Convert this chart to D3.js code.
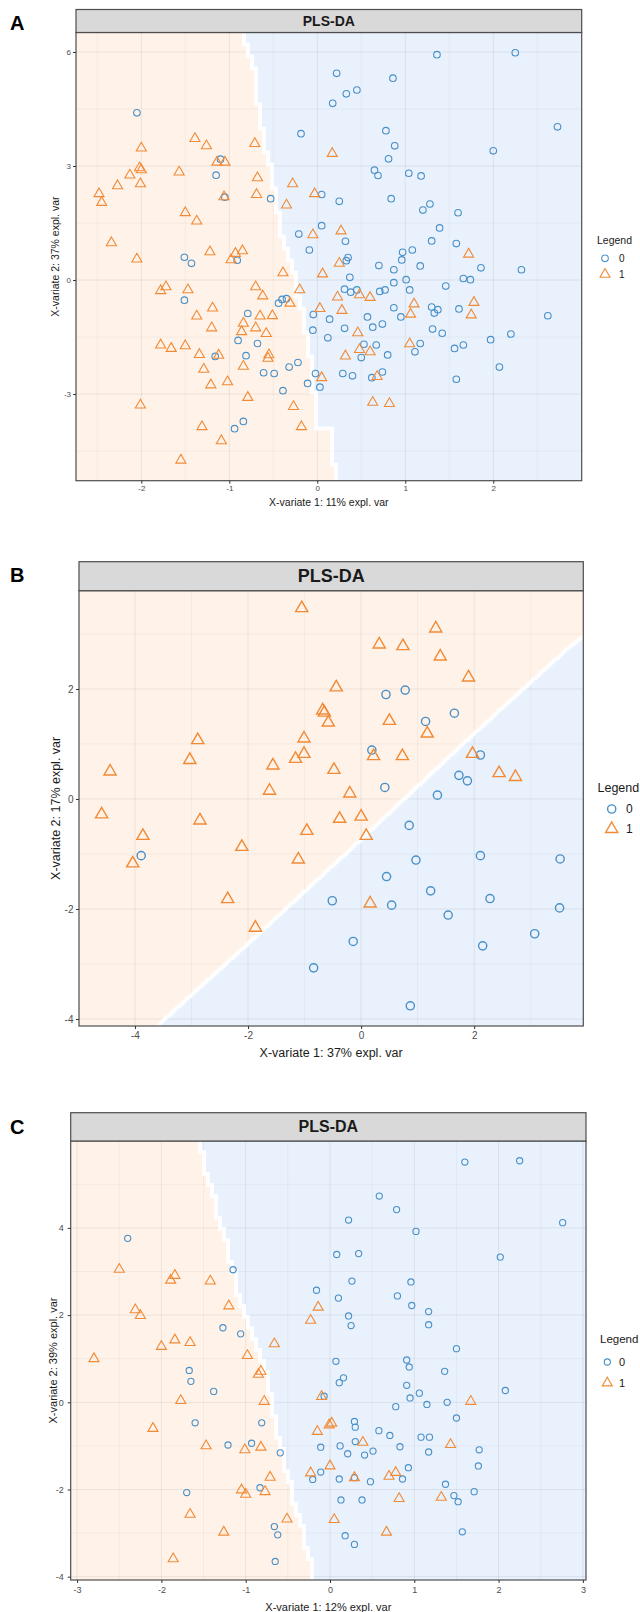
<!DOCTYPE html>
<html>
<head>
<meta charset="utf-8">
<script src="https://cdn.jsdelivr.net/npm/d3@7"></script>
<style>
  body { margin: 0; background: #fff; }
  svg { display: block; }
</style>
</head>
<body>
<div id="chart"></div>
<script>
// ---- Panel A data (x-variate 1, x-variate 2) ----
var aClass0 = [[-2.05,4.40],[-0.185,3.85],[-1.10,3.18],[-1.15,2.76],[-1.05,2.18],[-0.53,2.14],[-0.21,1.21],[-0.09,0.79],
  [1.36,5.93],[2.25,5.98],[0.22,5.44],[0.86,5.31],[0.33,4.90],[0.45,5.0],[0.175,4.65],[2.73,4.03],[2.0,3.40],[0.78,3.93],
  [0.88,3.53],[0.81,3.19],[0.65,2.89],[0.69,2.75],[1.04,2.81],[1.18,2.74],[0.05,2.25],[0.25,2.07],[0.84,2.14],[1.20,1.84],
  [1.28,2.0],[1.60,1.77],[0.05,1.43],[0.32,1.02],[1.39,1.37],[1.30,1.03],[1.58,0.96],[0.97,0.73],[1.08,0.79],
  [0.35,0.59],[0.33,0.51],[0.70,0.38],[0.87,0.27],[1.17,0.37],[0.96,0.53],[1.86,0.32],[2.32,0.27],[0.37,0.07],[0.31,-0.24],
  [0.38,-0.32],[0.45,-0.26],[0.71,-0.30],[0.77,-0.26],[0.87,-0.07],[1.01,0.01],[1.05,-0.26],[1.46,-0.16],[1.66,0.04],[1.74,0.01],
  [-0.045,-0.91],[0.14,-1.03],[-0.05,-1.32],[0.12,-1.52],[0.31,-1.27],[0.57,-0.97],[0.63,-1.24],[0.74,-1.16],[0.87,-0.73],
  [0.95,-0.97],[1.30,-0.71],[1.37,-0.78],[1.33,-0.87],[1.31,-1.29],[1.42,-1.40],[1.61,-0.76],[2.62,-0.94],[1.97,-1.57],
  [2.20,-1.42],[1.56,-1.80],[1.66,-1.71],[0.53,-1.69],[0.67,-1.71],[0.50,-2.04],[0.80,-1.97],[1.11,-1.89],[1.17,-1.67],
  [2.07,-2.29],[1.58,-2.61],[0.29,-2.46],[0.40,-2.52],[0.62,-2.57],[0.74,-2.42],[-0.02,-2.46],[-0.11,-2.72],[0.03,-2.82],
  [-1.51,0.60],[-1.43,0.44],[-0.91,0.52],[-1.51,-0.53],[-0.44,-0.61],[-0.40,-0.51],[-0.35,-0.49],[-0.79,-0.88],[-0.90,-1.59],
  [-0.68,-1.67],[-1.16,-2.01],[-0.81,-1.99],[-0.32,-2.29],[-0.22,-2.17],[-0.61,-2.44],[-0.49,-2.46],[-0.39,-2.91],
  [-0.84,-3.72],[-0.94,-3.91]];
var aClass1 = [[-2.0,3.47],[-1.39,3.72],[-1.26,3.53],[-0.71,3.59],[-2.02,2.95],[-2.00,2.90],[-2.13,2.76],[-2.27,2.48],
  [-2.48,2.27],[-2.45,2.04],[-2.01,2.53],[-1.57,2.84],[-1.14,3.10],[-1.05,3.10],[-0.68,2.69],[-0.69,2.25],[-1.06,2.19],
  [-1.50,1.77],[-1.37,1.55],[-0.28,2.53],[-0.35,1.97],[-0.03,2.27],[-0.05,1.19],[-2.34,0.98],[-1.22,0.74],[-0.85,0.77],
  [-0.93,0.70],[-2.05,0.55],[0.17,3.33],[0.27,1.29],[1.72,0.68],[0.25,0.44],[0.06,0.16],[-0.20,-0.26],[0.23,-0.45],
  [0.48,-0.39],[0.60,-0.46],[0.03,-0.75],[0.28,-0.80],[0.46,-1.39],[0.48,-1.83],[0.60,-1.89],[0.32,-2.0],[1.10,-0.63],
  [1.06,-0.90],[1.05,-1.68],[1.78,-0.59],[1.75,-0.92],[0.05,-2.57],[0.68,-2.54],[0.63,-3.22],[0.82,-3.25],[-0.18,-3.86],
  [-0.98,0.53],[-0.39,0.19],[-1.78,-0.28],[-1.72,-0.18],[-1.47,-0.26],[-0.70,-0.18],[-0.62,-0.42],[-0.31,-0.61],
  [-1.19,-0.74],[-1.37,-0.95],[-0.65,-0.95],[-0.51,-0.94],[-0.84,-1.14],[-1.20,-1.26],[-0.86,-1.36],[-0.70,-1.26],
  [-0.58,-1.41],[-1.78,-1.71],[-1.66,-1.80],[-1.50,-1.73],[-1.34,-1.96],[-1.12,-1.98],[-0.55,-1.97],[-0.56,-2.06],
  [-1.29,-2.35],[-0.84,-2.27],[-1.02,-2.68],[-1.21,-2.76],[-0.79,-3.09],[-2.01,-3.29],[-0.27,-3.33],[-1.31,-3.86],
  [-1.09,-4.23],[-1.55,-4.74]];
// decision boundary: [x-variate 2, x-variate 1]
var aBoundary = [[6.51,-0.86],[5.6,-0.73],[3.86,-0.62],[2.1,-0.46],[1.1,-0.39],[0.18,-0.27],[-0.7,-0.18],[-1.58,-0.12],
  [-2.45,-0.06],[-3.33,-0.01],[-3.86,0.0],[-3.9,0.14],[-4.6,0.18],[-5.28,0.2]];
var aXTicks = [-2, -1, 0, 1, 2], aXMinor = [-2.5, -1.5, -0.5, 0.5, 1.5, 2.5];
var aYTicks = [-3, 0, 3, 6], aYMinor = [-4.5, -1.5, 1.5, 4.5];

// ---- Panel B data ----
var bClass0 = [[0.44,1.90],[0.78,1.98],[1.14,1.41],[1.65,1.56],[0.19,0.89],[2.11,0.80],[1.73,0.43],[1.88,0.33],[0.42,0.21],
  [1.35,0.07],[-3.89,-1.03],[-0.84,-3.07],[0.85,-0.48],[0.97,-1.11],[2.11,-1.03],[3.52,-1.09],[0.45,-1.41],[1.23,-1.67],
  [2.28,-1.81],[-0.51,-1.85],[0.54,-1.93],[1.54,-2.11],[3.51,-1.98],[3.07,-2.45],[-0.14,-2.59],[2.15,-2.67],[0.87,-3.76]];
var bClass1 = [[-1.05,3.47],[-2.89,1.07],[-3.03,0.71],[-4.44,0.50],[-1.01,1.10],[-1.01,0.82],[-1.16,0.73],[-1.56,0.61],
  [-1.62,0.15],[-0.68,1.61],[-0.65,1.57],[-0.58,1.39],[1.32,3.10],[0.32,2.81],[0.74,2.78],[1.40,2.59],[1.90,2.21],
  [-0.44,2.03],[0.50,1.42],[1.17,1.19],[0.22,0.78],[0.73,0.78],[-0.48,0.53],[-0.20,0.10],[1.97,0.82],[2.44,0.47],
  [2.73,0.40],[-4.59,-0.28],[-2.85,-0.39],[-3.86,-0.67],[-0.96,-0.58],[-2.11,-0.87],[-1.11,-1.10],[-4.04,-1.17],
  [-2.36,-1.82],[-1.87,-2.34],[-0.38,-0.36],[0.0,-0.32],[0.09,-0.67],[0.16,-1.90]];
var bBoundary = [[2.95,3.93],[2.78,3.70],[1.01,1.81],[-0.84,-0.11],[-2.65,-2.02],[-4.13,-3.61]];
var bXTicks = [-4, -2, 0, 2], bXMinor = [-5, -3, -1, 1, 3];
var bYTicks = [-4, -2, 0, 2], bYMinor = [-3, -1, 1, 3];

// ---- Panel C data ----
var cClass0 = [[-2.40,3.76],[-1.15,3.04],[-1.27,1.71],[-1.06,1.57],[-0.16,2.57],[1.60,5.51],[2.25,5.54],[0.585,4.73],
  [0.79,4.42],[0.22,4.18],[1.02,3.92],[2.76,4.12],[0.08,3.39],[0.34,3.41],[2.02,3.33],[0.26,2.78],[0.96,2.76],[0.10,2.39],
  [0.80,2.44],[0.97,2.22],[1.17,2.08],[0.22,1.98],[0.25,1.76],[1.17,1.78],[-1.67,0.73],[-1.65,0.48],[-1.38,0.25],
  [-1.60,-0.47],[-0.81,-0.47],[-1.21,-0.98],[-0.93,-0.94],[-0.59,-1.16],[-1.70,-2.07],[-0.83,-1.96],[-0.66,-2.85],
  [-0.62,-3.04],[-0.65,-3.65],[-0.205,-1.77],[-0.11,-1.03],[-0.11,-1.60],[1.50,1.23],[0.07,0.94],[0.91,0.97],[0.94,0.81],
  [1.36,0.71],[0.11,0.45],[0.16,0.56],[0.91,0.39],[1.06,0.21],[0.95,0.10],[2.08,0.27],[-0.07,0.14],[0.78,-0.10],
  [1.15,-0.05],[1.39,0.0],[1.50,-0.36],[0.29,-0.44],[0.30,-0.57],[0.58,-0.65],[0.71,-0.76],[1.08,-0.80],[1.18,-0.80],
  [0.30,-0.90],[0.12,-1.0],[0.21,-1.18],[0.41,-1.21],[0.51,-1.12],[0.83,-1.02],[1.17,-1.14],[1.77,-1.09],[1.76,-1.46],
  [0.93,-1.50],[0.11,-1.76],[0.29,-1.73],[0.48,-1.82],[0.86,-1.76],[1.37,-1.88],[1.47,-2.14],[1.52,-2.28],[1.71,-2.05],
  [0.13,-2.24],[0.38,-2.24],[1.57,-2.97],[0.18,-3.06],[0.29,-3.26]];
var cClass1 = [[-2.50,3.05],[-1.89,2.80],[-1.84,2.91],[-1.42,2.78],[-1.20,2.21],[-2.31,2.12],[-2.25,1.99],[-0.23,1.88],
  [-0.14,2.18],[-1.84,1.43],[-2.0,1.28],[-1.66,1.37],[-0.66,1.34],[-2.80,1.0],[-0.98,1.07],[-0.85,0.64],[-0.82,0.71],
  [-1.77,0.04],[-0.78,0.02],[-2.10,-0.60],[-1.47,-1.0],[-1.01,-1.09],[-0.82,-1.03],[-0.23,-1.62],[-0.71,-1.72],
  [-1.05,-2.01],[-1.0,-2.11],[-0.77,-2.05],[-1.66,-2.57],[-0.51,-2.68],[-1.26,-2.98],[-1.86,-3.59],[-0.10,0.13],
  [1.67,0.02],[-0.15,-0.67],[-0.01,-0.52],[0.02,-0.48],[0.39,-0.92],[1.43,-0.97],[0.0,-1.46],[0.29,-1.73],[0.70,-1.70],
  [0.78,-1.61],[0.82,-2.21],[1.32,-2.18],[0.05,-2.69],[0.67,-2.98]];
var cBoundary = [[6.0,-1.58],[5.17,-1.44],[4.4,-1.34],[3.65,-1.23],[2.87,-1.13],[2.11,-1.03],[1.65,-0.95],[0.89,-0.79],
  [0.12,-0.71],[-0.65,-0.63],[-1.41,-0.53],[-2.18,-0.44],[-2.95,-0.32],[-3.71,-0.22],[-4.09,-0.18]];
var cXTicks = [-3, -2, -1, 0, 1, 2, 3], cXMinor = [-2.5, -1.5, -0.5, 0.5, 1.5, 2.5];
var cYTicks = [-4, -2, 0, 2, 4], cYMinor = [-3, -1, 1, 3, 5];

var legendLabels = ["0", "1"];
var blue = "#4a90c8", orange = "#f28a35";

var svg = d3.select("#chart").append("svg")
  .attr("width", 640)
  .attr("height", 1612);

var panels = [
  {label: "A", class0: aClass0, class1: aClass1, boundary: aBoundary,
   xTicks: aXTicks, xMinor: aXMinor, yTicks: aYTicks, yMinor: aYMinor,
   xDomain: [-2.742, 3.005], yDomain: [-5.28, 6.513],
   left: 76, right: 581.7, stripTop: 9.5, top: 32.5, bottom: 480.7,
   rowH: 12, colW: 4, gap: 4, r: 3.3, tri: 44, sw: 1.1,
   font: "'Liberation Sans', Arial, sans-serif",
   stripSize: 14, tickSize: 8, titleSize: 10.5, tickPad: 2,
   xTitle: "X-variate 1: 11% expl. var", yTitle: "X-variate 2: 37% expl. var",
   xTitleY: 506, yTitleX: 55, labelY: 30,
   legX: 597, legY: 244, legSym: 605, legText: 619, legRow: [258.3, 274.3], legSize: 10.5},
  {label: "B", class0: bClass0, class1: bClass1, boundary: bBoundary,
   xTicks: bXTicks, xMinor: bXMinor, yTicks: bYTicks, yMinor: bYMinor,
   xDomain: [-4.99, 3.93], yDomain: [-4.127, 3.787],
   left: 79, right: 583.3, stripTop: 561.7, top: 590.7, bottom: 1026,
   rowH: 2, colW: 1, gap: 3, r: 4.1, tri: 64, sw: 1.4,
   font: "'Liberation Sans', Arial, sans-serif",
   stripSize: 18, tickSize: 10, titleSize: 12.5, tickPad: 2.5,
   xTitle: "X-variate 1: 37% expl. var", yTitle: "X-variate 2: 17% expl. var",
   xTitleY: 1056.5, yTitleX: 56, labelY: 582,
   legX: 597.5, legY: 791.5, legSym: 611.7, legText: 626, legRow: [809, 829], legSize: 12.5},
  {label: "C", class0: cClass0, class1: cClass1, boundary: cBoundary,
   xTicks: cXTicks, xMinor: cXMinor, yTicks: cYTicks, yMinor: cYMinor,
   xDomain: [-3.076, 3.037], yDomain: [-4.076, 5.993],
   left: 70.7, right: 586, stripTop: 1112.7, top: 1141, bottom: 1580,
   rowH: 11, colW: 4, gap: 4, r: 3.1, tri: 44, sw: 1.1,
   font: "'Liberation Sans Narrow', 'Liberation Sans', Arial, sans-serif",
   stripSize: 16, tickSize: 9, titleSize: 11, tickPad: 4,
   xTitle: "X-variate 1: 12% expl. var", yTitle: "X-variate 2: 39% expl. var",
   xTitleY: 1610.5, yTitleX: 53, labelY: 1134,
   legX: 600, legY: 1343, legSym: 607.3, legText: 619, legRow: [1362, 1383], legSize: 11.5}
];

// boundary position (x-variate 1) for a given x-variate 2, linear between the read points
function boundaryAt(b, v) {
  var i = 0;
  while (i < b.length - 2 && v < b[i + 1][0]) i++;
  var a = b[i], c = b[i + 1];
  return a[1] + (v - a[0]) * (c[1] - a[1]) / (c[0] - a[0]);
}

function drawPanel(p) {
  var x = d3.scaleLinear().domain(p.xDomain).range([p.left, p.right]);
  var y = d3.scaleLinear().domain(p.yDomain).range([p.bottom, p.top]);
  var g = svg.append("g");

  var clipId = "clip" + p.label;
  g.append("clipPath").attr("id", clipId)
    .append("rect")
      .attr("x", p.left).attr("y", p.top)
      .attr("width", p.right - p.left).attr("height", p.bottom - p.top);
  var plot = g.append("g").attr("clip-path", "url(#" + clipId + ")");

  // predicted background: blue everywhere, orange left of the boundary (tiled rows)
  plot.append("rect")
    .attr("x", p.left).attr("y", p.top)
    .attr("width", p.right - p.left).attr("height", p.bottom - p.top)
    .attr("fill", "#e8f1fc");

  var edge = "";
  for (var py = p.top, k = 0; py < p.bottom; py += p.rowH, k++) {
    var y1 = Math.min(py + p.rowH, p.bottom);
    var xp = x(boundaryAt(p.boundary, y.invert((py + y1) / 2)));
    xp = Math.round(xp / p.colW) * p.colW;
    xp = Math.max(p.left, Math.min(p.right + 10, xp));
    edge += (k ? "L" : "M") + xp + "," + py + "L" + xp + "," + y1;
  }
  plot.append("path")
    .attr("d", "M" + p.left + "," + p.top + edge.replace(/^M/, "L") + "L" + p.left + "," + p.bottom + "Z")
    .attr("fill", "#fff2e8");

  // grid
  plot.selectAll(".vminor").data(p.xMinor).enter().append("line")
    .attr("x1", x).attr("x2", x).attr("y1", p.top).attr("y2", p.bottom)
    .style("stroke", "#000").style("stroke-opacity", 0.05).style("stroke-width", 0.8);
  plot.selectAll(".hminor").data(p.yMinor).enter().append("line")
    .attr("y1", y).attr("y2", y).attr("x1", p.left).attr("x2", p.right)
    .style("stroke", "#000").style("stroke-opacity", 0.05).style("stroke-width", 0.8);
  plot.selectAll(".vmajor").data(p.xTicks).enter().append("line")
    .attr("x1", x).attr("x2", x).attr("y1", p.top).attr("y2", p.bottom)
    .style("stroke", "#000").style("stroke-opacity", 0.07).style("stroke-width", 1);
  plot.selectAll(".hmajor").data(p.yTicks).enter().append("line")
    .attr("y1", y).attr("y2", y).attr("x1", p.left).attr("x2", p.right)
    .style("stroke", "#000").style("stroke-opacity", 0.07).style("stroke-width", 1);

  // white gap along the boundary
  plot.append("path")
    .attr("d", edge)
    .style("fill", "none")
    .style("stroke", "#fff")
    .style("stroke-width", p.gap)
    .style("stroke-opacity", 0.9);

  // points
  plot.selectAll(".c0").data(p.class0).enter().append("circle")
    .attr("cx", function(d) { return x(d[0]); })
    .attr("cy", function(d) { return y(d[1]); })
    .attr("r", p.r)
    .style("fill", "none").style("stroke", blue).style("stroke-width", p.sw);
  plot.selectAll(".c1").data(p.class1).enter().append("path")
    .attr("d", d3.symbol().type(d3.symbolTriangle).size(p.tri))
    .attr("transform", function(d) { return "translate(" + x(d[0]) + "," + y(d[1]) + ")"; })
    .style("fill", "none").style("stroke", orange).style("stroke-width", p.sw);

  // panel border and strip
  g.append("rect")
    .attr("x", p.left).attr("y", p.top)
    .attr("width", p.right - p.left).attr("height", p.bottom - p.top)
    .style("fill", "none").style("stroke", "#4d4d4d").style("stroke-width", 1.2);
  g.append("rect")
    .attr("x", p.left).attr("y", p.stripTop)
    .attr("width", p.right - p.left).attr("height", p.top - p.stripTop)
    .style("fill", "#d9d9d9").style("stroke", "#4d4d4d").style("stroke-width", 1.2);
  g.append("text")
    .attr("x", (p.left + p.right) / 2).attr("y", (p.stripTop + p.top) / 2)
    .attr("text-anchor", "middle").attr("dominant-baseline", "central")
    .style("font-family", p.font).style("font-weight", "bold")
    .style("font-size", p.stripSize + "px").style("fill", "#1a1a1a")
    .text("PLS-DA");

  // axes
  var fmt = function(d) { return String(d); };
  var xAxis = g.append("g")
    .attr("transform", "translate(0," + p.bottom + ")")
    .call(d3.axisBottom(x).tickValues(p.xTicks).tickFormat(fmt).tickSize(3).tickPadding(p.tickPad));
  var yAxis = g.append("g")
    .attr("transform", "translate(" + p.left + ",0)")
    .call(d3.axisLeft(y).tickValues(p.yTicks).tickFormat(fmt).tickSize(3).tickPadding(p.tickPad));
  [xAxis, yAxis].forEach(function(ax) {
    ax.select(".domain").remove();
    ax.selectAll("line").style("stroke", "#333");
    ax.selectAll("text")
      .style("font-family", p.font).style("font-size", p.tickSize + "px").style("fill", "#4d4d4d");
  });

  // axis titles
  g.append("text")
    .attr("x", (p.left + p.right) / 2).attr("y", p.xTitleY)
    .attr("text-anchor", "middle")
    .style("font-family", p.font).style("font-size", p.titleSize + "px").style("fill", "#1a1a1a")
    .text(p.xTitle);
  g.append("text")
    .attr("transform", "translate(" + p.yTitleX + "," + ((p.top + p.bottom) / 2) + ") rotate(-90)")
    .attr("text-anchor", "middle").attr("dominant-baseline", "central")
    .style("font-family", p.font).style("font-size", p.titleSize + "px").style("fill", "#1a1a1a")
    .text(p.yTitle);

  // panel letter
  g.append("text")
    .attr("x", 10).attr("y", p.labelY)
    .style("font-family", "'Liberation Sans', Arial, sans-serif").style("font-weight", "bold")
    .style("font-size", "20px").style("fill", "#000")
    .text(p.label);

  // legend
  g.append("text")
    .attr("x", p.legX).attr("y", p.legY)
    .style("font-family", p.font).style("font-size", p.legSize + "px").style("fill", "#1a1a1a")
    .text("Legend");
  g.append("circle")
    .attr("cx", p.legSym).attr("cy", p.legRow[0]).attr("r", p.r)
    .style("fill", "none").style("stroke", blue).style("stroke-width", p.sw);
  g.append("path")
    .attr("d", d3.symbol().type(d3.symbolTriangle).size(p.tri))
    .attr("transform", "translate(" + p.legSym + "," + p.legRow[1] + ")")
    .style("fill", "none").style("stroke", orange).style("stroke-width", p.sw);
  g.selectAll(".legtext").data(legendLabels).enter().append("text")
    .attr("x", p.legText)
    .attr("y", function(d, i) { return p.legRow[i]; })
    .attr("dominant-baseline", "central")
    .style("font-family", p.font).style("font-size", (p.legSize - 0.5) + "px").style("fill", "#1a1a1a")
    .text(function(d) { return d; });
}

panels.forEach(drawPanel);
</script>
</body>
</html>
